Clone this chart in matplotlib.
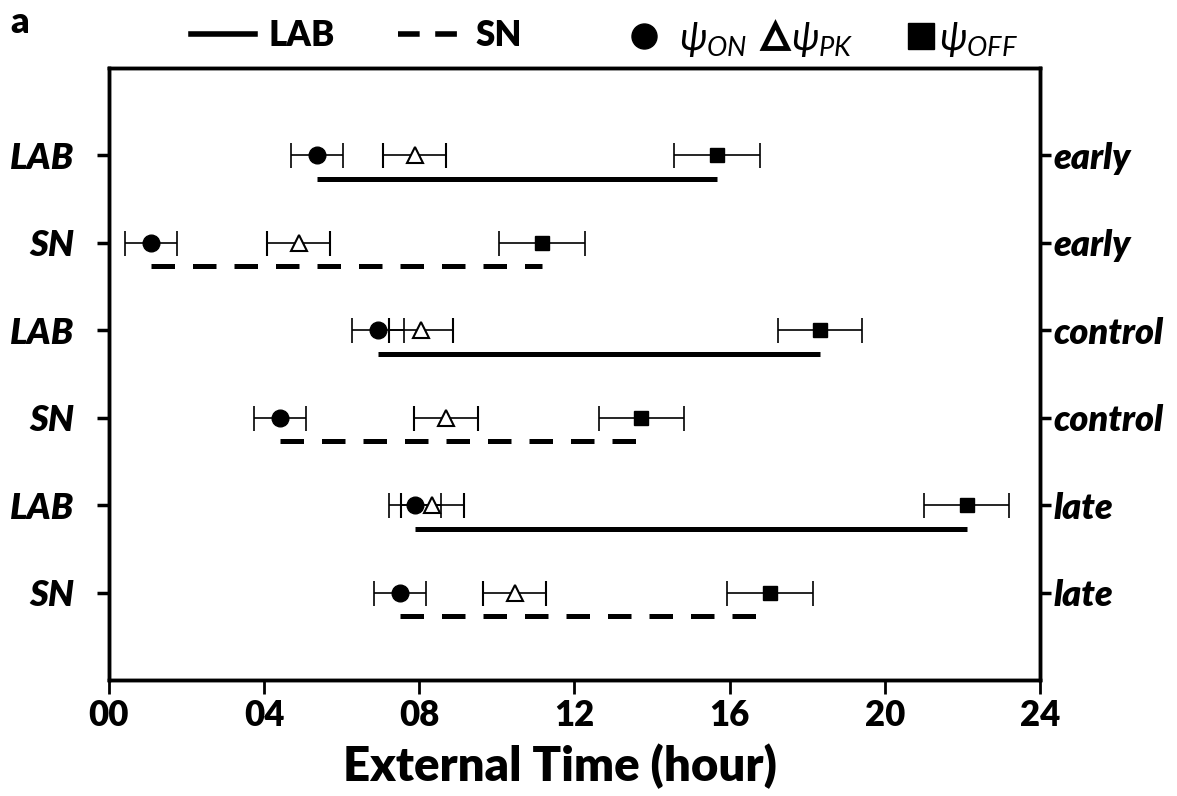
import numpy as np
import matplotlib
matplotlib.use("Agg")
import matplotlib.pyplot as plt
from matplotlib.lines import Line2D

plt.rcParams['font.family'] = ['Lato', 'DejaVu Sans']
plt.rcParams['mathtext.fontset'] = 'custom'
plt.rcParams['mathtext.it'] = 'Lato:italic'
plt.rcParams['mathtext.rm'] = 'Lato'

# rows from top to bottom
groups = ['LAB', 'SN', 'LAB', 'SN', 'LAB', 'SN']
conditions = ['early', 'early', 'control', 'control', 'late', 'late']
psi_on = [5.37, 1.09, 6.94, 4.40, 7.89, 7.50]
psi_on_err = [0.67, 0.67, 0.67, 0.67, 0.67, 0.67]
psi_pk = [7.88, 4.89, 8.04, 8.69, 8.33, 10.46]
psi_pk_err = [0.82, 0.82, 0.82, 0.82, 0.81, 0.81]
psi_off = [15.67, 11.16, 18.33, 13.72, 22.11, 17.05]
psi_off_err = [1.1, 1.1, 1.08, 1.1, 1.1, 1.11]

ypos = np.arange(len(groups), 0, -1)
line_offset = 0.27
heavy = 'heavy'

fig = plt.figure(figsize=(11.77, 7.96), dpi=100)
ax = fig.add_axes([0.0926, 0.1457, 0.7910, 0.7689])

dash_style = (0, (4.7, 3.6))
for i, g in enumerate(groups):
	y = ypos[i]
	ls = '-' if g == 'LAB' else dash_style
	ax.plot([psi_on[i], psi_off[i]], [y - line_offset, y - line_offset],
			color='black', lw=3.6, linestyle=ls, solid_capstyle='butt', dash_capstyle='butt')
	ax.errorbar(psi_on[i], y, xerr=psi_on_err[i], fmt='o', color='black', ms=12,
				elinewidth=1.2, capsize=9, capthick=1.2, zorder=3)
	ax.errorbar(psi_pk[i], y, xerr=psi_pk_err[i], fmt='^', mfc='white', mec='black', ms=12,
				mew=1.5, ecolor='black', elinewidth=1.2, capsize=9, capthick=1.2, zorder=4)
	ax.errorbar(psi_off[i], y, xerr=psi_off_err[i], fmt='s', color='black', ms=10.5,
				elinewidth=1.2, capsize=9, capthick=1.2, zorder=3)

ax.set_xlim(0, 24)
ax.set_ylim(0, 7)
ax.set_xticks(np.arange(0, 25, 4))
ax.set_xticklabels([f'{h:02d}' for h in range(0, 25, 4)], fontsize=25, fontweight=heavy)
ax.set_yticks(ypos)
ax.set_yticklabels(groups, fontsize=26, fontweight=heavy, style='italic')
ax.tick_params(axis='x', length=10, width=2, pad=4)
ax.tick_params(axis='y', length=9, width=2.5, pad=16)
for s in ax.spines.values():
	s.set_linewidth(2.5)

ax2 = ax.twinx()
ax2.set_ylim(0, 7)
ax2.set_yticks(ypos)
ax2.set_yticklabels(conditions, fontsize=26, fontweight=heavy, style='italic')
ax2.tick_params(axis='y', length=8, width=2.5, pad=2)
for s in ax2.spines.values():
	s.set_linewidth(2.5)

ax.set_xlabel('External Time (hour)', fontsize=34, fontweight=heavy)
ax.xaxis.set_label_coords(0.484, -0.103)

# legends on top
line_handles = [
	Line2D([], [], color='black', lw=4, linestyle='-'),
	Line2D([], [], color='black', lw=4, linestyle=(0, (3.9, 2.8))),
]
fig.legend(line_handles, ['LAB', 'SN'], ncol=2, loc='center', bbox_to_anchor=(0.303, 0.955),
		   frameon=False, prop={'size': 25, 'weight': heavy}, handlelength=1.85,
		   handletextpad=0.4, columnspacing=1.8)

marker_items = [
	(Line2D([], [], color='black', marker='o', ls='none', ms=18), r'$\psi_{ON}$', 0.584, 0.5),
	(Line2D([], [], color='black', marker='^', mfc='white', mew=3.5, ls='none', ms=17), r'$\psi_{PK}$', 0.685, 0.0),
	(Line2D([], [], color='black', marker='s', ls='none', ms=18.5), r'$\psi_{OFF}$', 0.817, 0.05),
]
for handle, label, xc, pad in marker_items:
	fig.legend([handle], [label], loc='center', bbox_to_anchor=(xc, 0.951), frameon=False,
			   prop={'size': 28}, handlelength=0.8, handletextpad=pad, borderpad=0)

fig.text(0.009, 0.972, 'a', fontsize=26, fontweight=heavy, va='center')

fig.savefig('out.png', dpi=100)
